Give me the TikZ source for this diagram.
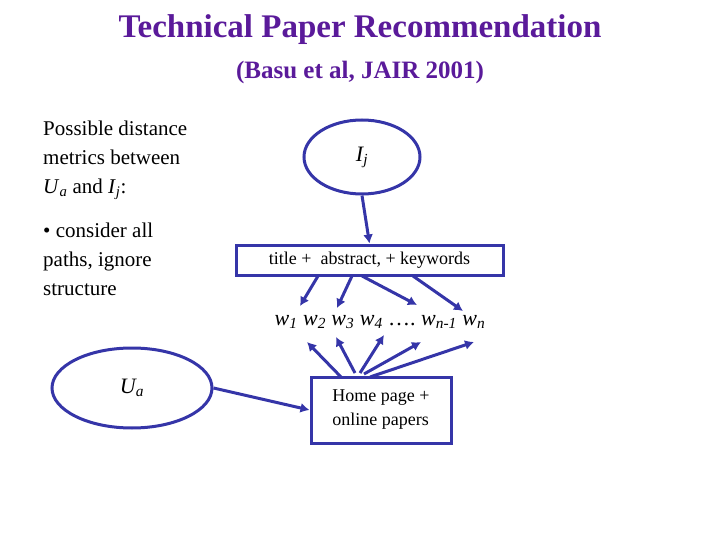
\documentclass[tikz,border=0pt]{standalone}
\usepackage{fontspec}
\setmainfont{Liberation Serif}
\usetikzlibrary{shapes.geometric,arrows.meta}
\definecolor{ttl}{HTML}{5A1A9A}
\definecolor{bl}{HTML}{3535A8}
\begin{document}
\begin{tikzpicture}[x=1pt,y=-1pt,
  ln/.style={draw=bl,line width=3pt},
  ar/.style={bl,line width=3pt,-{Latex[length=9pt,width=10pt]}},
  txt/.style={font=\fontsize{21}{29}\selectfont,align=left,anchor=north west,inner sep=0pt}]
\useasboundingbox (0,0) rectangle (720,540);
\node[ttl,font=\fontsize{33}{36}\selectfont\bfseries] (t) at (360,30) {Technical Paper Recommendation};
\node[ttl,font=\fontsize{25}{28}\selectfont\bfseries] (s) at (360,72) {(Basu et al, JAIR 2001)};
\node[txt] (p) at (43,121) {Possible distance\\metrics between\\\textit{U}\textsubscript{\textit{a}} and \textit{I}\textsubscript{\textit{j}}:};
\node[txt] (c) at (43,223) {• consider all\\paths, ignore\\structure};
\node[ln,ellipse,minimum width=116,minimum height=74,font=\fontsize{22}{24}\selectfont\itshape] (ij) at (362,157) {I\textsubscript{j}};
\node[ln,rectangle,minimum width=267,minimum height=30,font=\fontsize{18}{20}\selectfont] (tb) at (369.5,260) {title +\ \ abstract, + keywords};
\draw[ar] (ij.south) -- (tb.north);
\node[font=\fontsize{22}{24}\selectfont\itshape] (w) at (380,322) {w\textsubscript{1} w\textsubscript{2} w\textsubscript{3} w\textsubscript{4} \upshape\dots.\ \itshape w\textsubscript{n-1} w\textsubscript{n}};
\node[ln,ellipse,minimum width=160,minimum height=80,font=\fontsize{22}{24}\selectfont\itshape] (ua) at (132,388) {U\textsubscript{a}};
\node[ln,rectangle,minimum width=140,minimum height=66,font=\fontsize{18}{24}\selectfont,align=left] (hp) at (381,410) {Home page +\\online papers};
\coordinate (a1) at (300,306); \coordinate (a2) at (337,308);
\coordinate (a3) at (417,305); \coordinate (a4) at (463,311);
\draw[ar] (318,276) -- (a1);
\draw[ar] (352,276) -- (a2);
\draw[ar] (362,276) -- (a3);
\draw[ar] (413,276) -- (a4);
\coordinate (b1) at (307,342); \coordinate (b2) at (336,337);
\coordinate (b3) at (384,335); \coordinate (b4) at (421,342);
\coordinate (b5) at (474,342);
\draw[ar] (341,377) -- (b1);
\draw[ar] (355,373) -- (b2);
\draw[ar] (360,373) -- (b3);
\draw[ar] (364,374) -- (b4);
\draw[ar] (370,377) -- (b5);
\draw[ar] (ua.east) -- (hp.west);
\end{tikzpicture}
\end{document}
